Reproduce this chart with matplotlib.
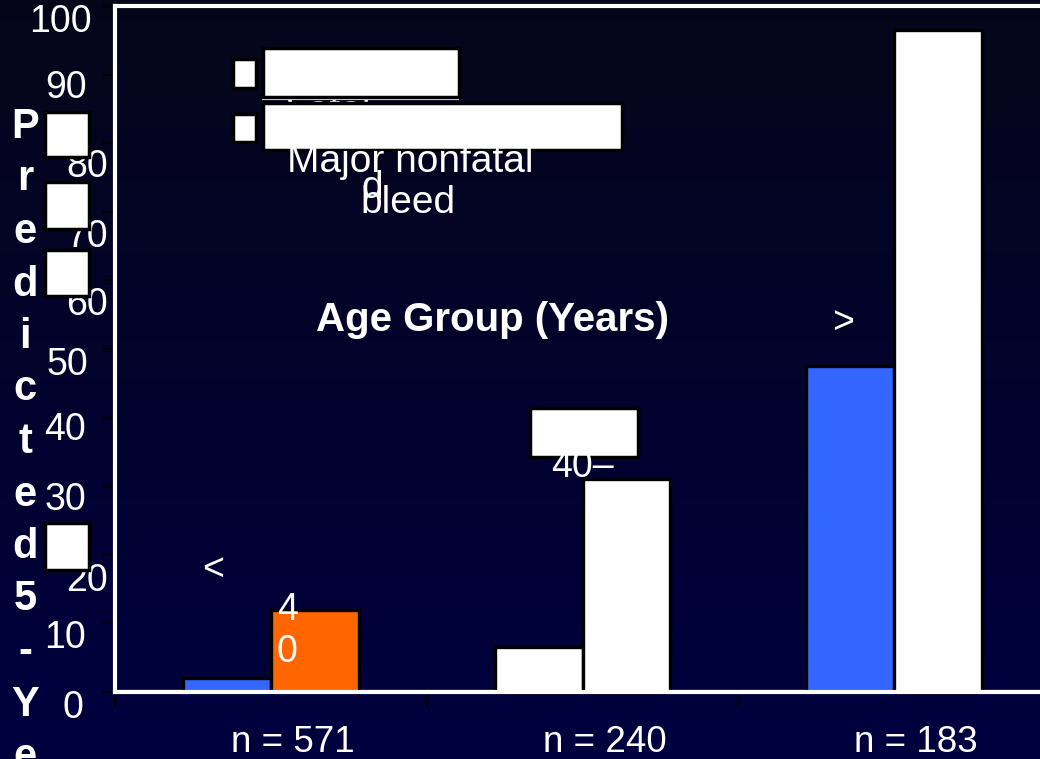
import numpy as np
import matplotlib
matplotlib.use("Agg")
import matplotlib.pyplot as plt
from matplotlib.patches import Rectangle
from matplotlib.colors import LinearSegmentedColormap
import matplotlib.transforms as mtransforms

plt.rcParams['font.family'] = ['Liberation Sans', 'DejaVu Sans']

# data
groups = ['n = 571', 'n = 240', 'n = 183']
fatal = [2, 6.5, 47.5]
nonfatal = [12, 31, 96.5]
fatal_colors = ['#3366ff', '#ffffff', '#3366ff']
nonfatal_colors = ['#ff6600', '#ffffff', '#ffffff']
yticks = list(range(0, 101, 10))
ylabel = 'Predicted 5-Year'

W, H = 1040, 759
fig = plt.figure(figsize=(W / 100, H / 100), dpi=100)


def px(x, y):
    return x / W, 1 - y / H


# dark navy gradient background
bg = fig.add_axes([0, 0, 1, 1], zorder=-5)
cmap = LinearSegmentedColormap.from_list('navy', ['#06061a', '#000040'])
bg.imshow(np.linspace(0, 1, 256).reshape(-1, 1), aspect='auto', cmap=cmap,
          extent=[0, 1, 0, 1])
bg.axis('off')

ax = fig.add_axes([115 / W, 1 - 692 / H, 935 / W, 686 / H])
ax.set_facecolor('none')

x = np.arange(len(groups))
bw = 0.282
ax.bar(x - bw / 2, fatal, bw, color=fatal_colors, edgecolor='black',
       linewidth=2.4, zorder=3)
ax.bar(x + bw / 2, nonfatal, bw, color=nonfatal_colors, edgecolor='black',
       linewidth=2.4, zorder=3)
ax.axhline(0, color='white', lw=3, zorder=4)

ax.set_xlim(-0.5, 2.5)
ax.set_ylim(0, 100)
for s in ['left', 'top', 'bottom']:
    ax.spines[s].set_color('white')
    ax.spines[s].set_linewidth(3)
ax.spines['right'].set_visible(False)

ax.set_yticks(yticks)
ax.set_yticklabels([])
ax.tick_params(axis='y', direction='out', length=9, width=1.5, color='black')

ax.set_xticks([-0.5, 0.5, 1.5])
ax.set_xticklabels([])
ax.tick_params(axis='x', direction='out', length=10, width=1.5, color='black')

# category labels under each group
shift = mtransforms.offset_copy(ax.transData, fig=fig, x=22, y=0, units='dots')
lab_tr = mtransforms.blended_transform_factory(shift, fig.transFigure)
for i, g in enumerate(groups):
    ax.text(i, 1 - 742 / H, g, transform=lab_tr, fontsize=26.5,
            color='white', ha='center', va='center')

# y tick labels, pushed around as in the slide
label_pos = [(83, 708), (86, 638), (108, 581), (86, 500), (86, 430),
             (88, 365), (108, 305), (108, 237), (108, 167), (87, 88),
             (92, 22)]
for v, (lx, ly) in zip(yticks, label_pos):
    fig.text(*px(lx, ly), str(v), fontsize=27, color='white', ha='right',
             va='center')

# stacked vertical axis title (runs off the bottom edge)
letters = ylabel.replace(' ', '')
for i, ch in enumerate(letters):
    ly = 127 + 52.5 * i
    if ly > H + 15:
        break
    fig.text(*px(25, ly), ch, fontsize=30, fontweight='bold',
             color='white', ha='center', va='center')


def box(x0, y0, x1, y1, lw=2.5, z=6):
    fig.patches.append(Rectangle(px(x0, y1), (x1 - x0) / W, (y1 - y0) / H,
                                 transform=fig.transFigure, facecolor='white',
                                 edgecolor='black', linewidth=lw, zorder=z))


# stray white boxes next to the title
for y0, y1 in [(112, 157), (182, 229), (250, 296), (523, 570)]:
    box(45, y0, 89, y1)

# legend
fig.text(*px(328, 112), 'Fatal', fontsize=28, color='white', ha='center',
         va='center', zorder=2)
fig.text(*px(372, 188), 'd', fontsize=28, color='white', ha='center',
         va='center', zorder=2)
box(233, 59, 256, 88)
box(233, 114, 256, 142)
box(263, 48, 459, 97)
fig.lines.append(plt.Line2D([263 / W, 458 / W], [1 - 99 / H] * 2,
                            transform=fig.transFigure, color='white', lw=1.5))
box(263, 103, 622, 150)
fig.text(*px(410, 162), 'Major nonfatal', fontsize=28, color='white',
         ha='center', va='center', zorder=7)
fig.text(*px(408, 203), 'bleed', fontsize=28, color='white', ha='center',
         va='center', zorder=7)

fig.text(*px(492, 320), 'Age Group (Years)', fontsize=29, fontweight='bold',
         color='white', ha='center', va='center')

# age range fragments
fig.text(*px(213, 570), '<', fontsize=27, color='white', ha='center',
         va='center', zorder=7)
fig.text(*px(277, 610), '4', fontsize=27, color='white', ha='left',
         va='center', zorder=7)
fig.text(*px(277, 652), '0', fontsize=27, color='white', ha='left',
         va='center', zorder=7)
box(530, 408, 638, 457)
fig.text(*px(582, 467), '40–', fontsize=27, color='white', ha='center',
         va='center', zorder=7)
fig.text(*px(843, 323), '>', fontsize=27, color='white', ha='center',
         va='center', zorder=7)

fig.savefig('out.png', dpi=100)
